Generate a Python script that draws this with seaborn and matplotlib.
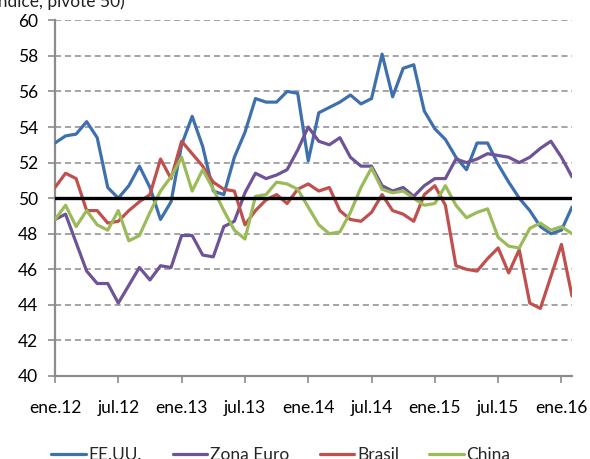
import numpy as np
import pandas as pd
import matplotlib
matplotlib.use("Agg")
import matplotlib.pyplot as plt
import seaborn as sns
from matplotlib.lines import Line2D

# Monthly PMI, Jan 2012 - Feb 2016
months = pd.date_range("2012-01-01", "2016-02-01", freq="MS")

eeuu = [53.1, 53.5, 53.6, 54.3, 53.4, 50.6, 50.0, 50.7, 51.8, 50.6,
        48.8, 49.8, 53.0, 54.6, 52.9, 50.4, 50.2, 52.3, 53.7, 55.6,
        55.4, 55.4, 56.0, 55.9, 52.1, 54.8, 55.1, 55.4, 55.8, 55.3,
        55.6, 58.1, 55.7, 57.3, 57.5, 54.9, 53.9, 53.3, 52.3, 51.6,
        53.1, 53.1, 51.9, 50.9, 50.0, 49.3, 48.4, 48.0, 48.2, 49.5]

zona_euro = [48.8, 49.1, 47.5, 45.9, 45.2, 45.2, 44.1, 45.1, 46.1, 45.4,
             46.2, 46.1, 47.9, 47.9, 46.8, 46.7, 48.4, 48.7, 50.3, 51.4,
             51.1, 51.3, 51.6, 52.7, 54.0, 53.2, 53.0, 53.4, 52.3, 51.8,
             51.8, 50.7, 50.4, 50.6, 50.1, 50.7, 51.1, 51.1, 52.2, 52.0,
             52.2, 52.5, 52.4, 52.3, 52.0, 52.3, 52.8, 53.2, 52.3, 51.2]

brasil = [50.6, 51.4, 51.1, 49.3, 49.3, 48.6, 48.7, 49.3, 49.8, 50.2,
          52.2, 51.1, 53.2, 52.5, 51.8, 50.9, 50.5, 50.4, 48.5, 49.3,
          49.9, 50.2, 49.7, 50.5, 50.8, 50.4, 50.6, 49.3, 48.8, 48.7,
          49.2, 50.2, 49.3, 49.1, 48.7, 50.2, 50.7, 49.6, 46.2, 46.0,
          45.9, 46.6, 47.2, 45.8, 47.1, 44.1, 43.8, 45.6, 47.4, 44.5]

china = [48.8, 49.6, 48.4, 49.3, 48.5, 48.2, 49.3, 47.6, 47.9, 49.2,
         50.4, 51.2, 52.3, 50.4, 51.6, 50.5, 49.3, 48.2, 47.7, 50.1,
         50.2, 50.9, 50.8, 50.5, 49.5, 48.5, 48.0, 48.1, 49.2, 50.6,
         51.7, 50.5, 50.3, 50.4, 50.0, 49.6, 49.7, 50.7, 49.6, 48.9,
         49.2, 49.4, 47.8, 47.3, 47.2, 48.3, 48.6, 48.2, 48.4, 48.0]

series_names = ["EE.UU.", "Zona Euro", "Brasil", "China"]
colors = ["#3F70AE", "#6E5396", "#C0504D", "#9BBB59"]
tick_labels = ["ene.12", "jul.12", "ene.13", "jul.13", "ene.14",
               "jul.14", "ene.15", "jul.15", "ene.16"]
pivot = 50

idx = np.arange(len(months))
df = pd.DataFrame({
    "idx": np.tile(idx, 4),
    "valor": eeuu + zona_euro + brasil + china,
    "serie": np.repeat(series_names, len(months)),
})

sns.set_theme(style="white")
plt.rcParams["font.family"] = ["Lato", "DejaVu Sans"]

fig = plt.figure(figsize=(5.9, 4.59), dpi=100)
ax = fig.add_axes([55 / 590, 1 - 376 / 459, (572 - 55) / 590, (376 - 20.3) / 459])

grid_c = "#8C8C8C"
for yv in range(42, 61, 2):
    ax.axhline(yv, color=grid_c, lw=1.1, ls=(0, (4, 2.5)), zorder=0)

sns.lineplot(data=df, x="idx", y="valor", hue="serie", hue_order=series_names,
             palette=colors, linewidth=2.3, legend=False, ax=ax, zorder=3)
ax.axhline(pivot, color="black", lw=2.4, zorder=4)

ax.set_xlim(0, len(months) - 1)
ax.set_ylim(40, 60)
ax.set_yticks(range(40, 61, 2))
ax.set_xticks(idx[::6])
ax.set_xticklabels(tick_labels)
ax.set_xlabel("")
ax.set_ylabel("")
for s in ["top", "right"]:
    ax.spines[s].set_visible(False)
for s in ["left", "bottom"]:
    ax.spines[s].set_color(grid_c)
    ax.spines[s].set_linewidth(1.6)
ax.tick_params(axis="y", direction="out", length=5, width=1.2, color=grid_c,
               pad=7, labelsize=12.5, labelcolor="black", left=True)
ax.tick_params(axis="x", direction="out", length=5, width=1.2, color=grid_c,
               pad=12, labelsize=12.5, labelcolor="black", bottom=True)

fig.text(-11 / 590, 1 - 7 / 459, "(índice, pivote 50)", fontsize=12.5,
         ha="left", va="baseline", color="#222222")

handles = [Line2D([0], [0], color=c, lw=2.3) for c in colors]
fig.legend(handles, series_names, loc="center", bbox_to_anchor=(281 / 590, 1 - 455 / 459),
           ncol=4, frameon=False, fontsize=12.5, handlelength=2.0,
           columnspacing=1.75, handletextpad=0.15, borderpad=0)

fig.savefig("out.png", dpi=100)
